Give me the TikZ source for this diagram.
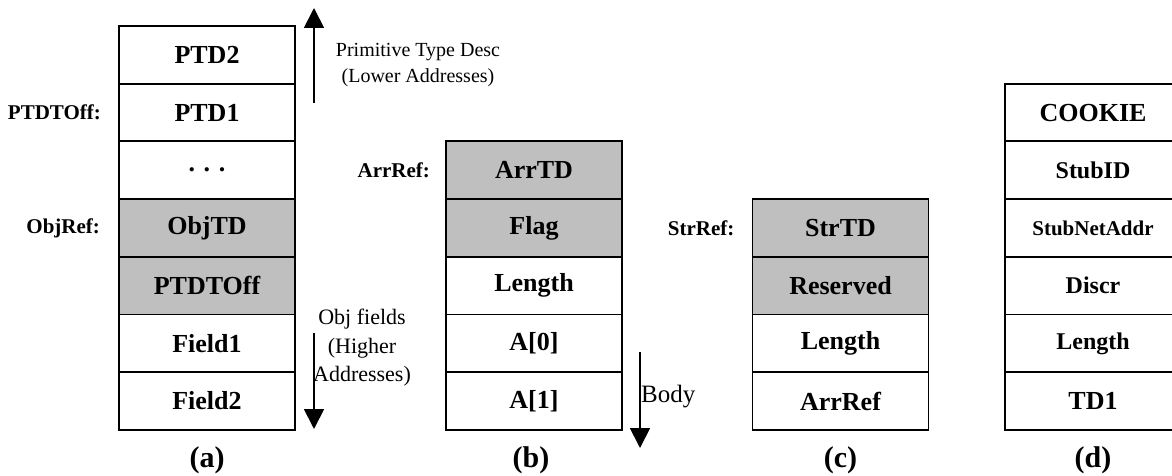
\documentclass[tikz,border=0pt]{standalone}
\usepackage{fontspec}
\setmainfont{Liberation Serif}
\usetikzlibrary{arrows.meta}

\newcommand{\fsz}[2]{\fontsize{#1}{#2}\selectfont}

\tikzset{
  cell/.style={draw, line width=1.8pt, minimum width=176pt, minimum height=57.7pt,
    inner sep=0pt, font=\fsz{26}{31}\bfseries},
  hdr/.style={cell, fill=gray!50!white},
  reflabel/.style={anchor=east, inner sep=0pt, font=\fsz{21}{25}\bfseries},
  note/.style={align=center, inner sep=0pt},
  caption/.style={inner sep=0pt, font=\fsz{30}{34}\bfseries},
  dirarrow/.style={line width=1.8pt, -{Triangle[width=20pt,length=20pt]}}
}

\begin{document}
\begin{tikzpicture}[x=1pt,y=-1pt]
\useasboundingbox (0,0) rectangle (1172,476);
\clip (0,0) rectangle (1172,476);

% (a) object layout
\node[cell] (ptd2)  at (207, 54.85) {PTD2};
\node[cell] (ptd1)  at (207,112.55) {PTD1};
\node[cell] (dots)  at (207,170.25) {. . .};
\node[hdr]  (objtd) at (207,227.95) {ObjTD};
\node[hdr]  (ptdt)  at (207,285.65) {PTDTOff};
\node[cell] (fld1)  at (207,343.35) {Field1};
\node[cell] (fld2)  at (207,401.05) {Field2};
\node[reflabel] (lptdt) at ([xshift=-17pt]ptd1.west) {PTDTOff:};
\node[reflabel] (lobj)  at ([xshift=-18pt]objtd.west) {ObjRef:};
\node[caption] (capa) at (207,460) {(a)};

\coordinate (upS) at (314,103);
\coordinate (upE) at (314,8);
\draw[dirarrow] (upS) -- (upE);
\node[note, font=\fsz{20}{26}] (ptdnote) at (418,65) {Primitive Type Desc\\(Lower Addresses)};

\coordinate (dnS) at (314,333);
\coordinate (dnE) at (314,429);
\draw[dirarrow] (dnS) -- (dnE);
\node[note, font=\fsz{22}{28.5}] (objnote) at (362,348) {Obj fields\\(Higher\\Addresses)};

% (b) array layout
\node[hdr]  (arrtd) at (534,170.25) {ArrTD};
\node[hdr]  (flag)  at (534,227.95) {Flag};
\node[cell] (blen)  at (534,285.65) {Length};
\node[cell] (a0)    at (534,343.35) {A[0]};
\node[cell] (a1)    at (534,401.05) {A[1]};
\node[reflabel] (larr) at ([xshift=-15pt]arrtd.west) {ArrRef:};
\node[caption] (capb) at (531,460) {(b)};

\coordinate (bdS) at (640,352);
\coordinate (bdE) at (640,448);
\draw[dirarrow] (bdS) -- (bdE);
\node[anchor=west, inner sep=0pt, font=\fsz{25}{30}] (body) at (641,397) {Body};

% (c) string layout
\node[hdr]  (strtd) at (840.5,227.95) {StrTD};
\node[hdr]  (resv)  at (840.5,285.65) {Reserved};
\node[cell] (clen)  at (840.5,343.35) {Length};
\node[cell] (carr)  at (840.5,401.05) {ArrRef};
\node[reflabel] (lstr) at ([xshift=-17pt]strtd.west) {StrRef:};
\node[caption] (capc) at (840.5,460) {(c)};

% (d) remote reference layout
\node[cell] (cookie) at (1093,112.55) {COOKIE};
\node[cell, font=\fsz{24}{29}\bfseries] (stubid) at (1093,170.25) {StubID};
\node[cell, font=\fsz{21}{25}\bfseries] (stubna) at (1093,227.95) {StubNetAddr};
\node[cell, font=\fsz{24}{29}\bfseries] (discr)  at (1093,285.65) {Discr};
\node[cell, font=\fsz{24}{29}\bfseries] (dlen)   at (1093,343.35) {Length};
\node[cell] (td1)    at (1093,401.05) {TD1};
\node[caption] (capd) at (1093,460) {(d)};
\end{tikzpicture}
\end{document}
